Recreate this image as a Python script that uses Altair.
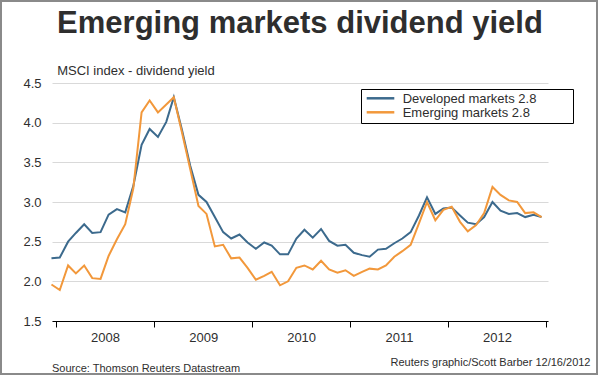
import altair as alt
import pandas as pd

# ---------------- data ----------------
months = pd.date_range("2007-12-01", periods=61, freq="MS") + pd.Timedelta(days=14)
dates = [d.strftime("%Y-%m-%d") for d in months]

series_names = ["Developed markets 2.8", "Emerging markets 2.8"]

developed = [2.29, 2.30, 2.50, 2.61, 2.72, 2.61, 2.62, 2.84, 2.91, 2.87,
             3.20, 3.72, 3.92, 3.82, 4.01, 4.32, 3.90, 3.46, 3.09, 3.00,
             2.81, 2.62, 2.54, 2.59, 2.49, 2.41, 2.49, 2.45, 2.34, 2.34,
             2.54, 2.65, 2.55, 2.66, 2.51, 2.45, 2.46, 2.36, 2.33, 2.31,
             2.40, 2.41, 2.48, 2.54, 2.62, 2.83, 3.06, 2.85, 2.92, 2.93,
             2.83, 2.74, 2.72, 2.81, 3.00, 2.89, 2.85, 2.86, 2.81, 2.84,
             2.81]

emerging = [1.96, 1.89, 2.20, 2.10, 2.20, 2.04, 2.03, 2.32, 2.53, 2.72,
            3.17, 4.13, 4.28, 4.13, 4.23, 4.32, 3.87, 3.42, 2.95, 2.85,
            2.44, 2.46, 2.29, 2.30, 2.17, 2.02, 2.07, 2.12, 1.95, 2.00,
            2.17, 2.20, 2.15, 2.26, 2.15, 2.11, 2.14, 2.07, 2.12, 2.16,
            2.15, 2.20, 2.31, 2.38, 2.46, 2.73, 3.00, 2.77, 2.90, 2.94,
            2.75, 2.63, 2.71, 2.86, 3.19, 3.09, 3.02, 3.00, 2.86, 2.87,
            2.81]

year_ticks = [2008, 2009, 2010, 2011, 2012, 2013]
y_ticks = [1.5, 2.0, 2.5, 3.0, 3.5, 4.0, 4.5]

title_text = "Emerging markets dividend yield"
subtitle_text = "MSCI index - dividend yield"
source_text = "Source: Thomson Reuters Datastream"
credit_text = "Reuters graphic/Scott Barber 12/16/2012"

# ---------------- styling ----------------
FONT = "Liberation Sans"
TEXT = "#2e2e2e"
COLORS = ["#3c6a8d", "#f2983b"]
W, H = 496, 238

df = pd.DataFrame({
    "date": dates * 2,
    "value": developed + emerging,
    "series": [series_names[0]] * len(dates) + [series_names[1]] * len(dates),
})

color_scale = alt.Scale(domain=series_names, range=COLORS)

x_enc = alt.X(
    "date:T",
    scale=alt.Scale(
        type="utc",
        domain=[alt.DateTime(year=2007, month=12, date=17, utc=True),
                alt.DateTime(year=2013, month=1, date=8, utc=True)],
    ),
    axis=alt.Axis(
        values=[alt.DateTime(year=y, month=1, date=1, utc=True) for y in year_ticks],
        labelExpr=f"utcyear(datum.value) < {year_ticks[-1]} ? utcFormat(datum.value, '%Y') : ''",
        labelOffset=49,
        labelFlush=False,
        labelOverlap=False,
        labelPadding=4,
        labelFontSize=13,
        labelFont=FONT,
        labelColor=TEXT,
        tickSize=6,
        tickColor="black",
        domainColor="black",
        domainWidth=1,
        grid=False,
        title=None,
    ),
)

y_enc = alt.Y(
    "value:Q",
    scale=alt.Scale(domain=[1.5, 4.5], nice=False, zero=False),
    axis=alt.Axis(
        values=y_ticks,
        format=".1f",
        domain=False,
        ticks=False,
        tickSize=0,
        labelPadding=11,
        labelFontSize=13,
        labelFont=FONT,
        labelColor=TEXT,
        gridColor="#d9d9d9",
        gridWidth=1,
        title=subtitle_text,
        titleAngle=0,
        titleAlign="left",
        titleBaseline="alphabetic",
        titleX=4.7,
        titleY=-8.5,
        titleFontSize=13,
        titleFont=FONT,
        titleFontWeight="normal",
        titleColor=TEXT,
    ),
)

lines = alt.Chart(df).mark_line(strokeWidth=2).encode(
    x=x_enc,
    y=y_enc,
    color=alt.Color("series:N", scale=color_scale, legend=None),
    detail="series:N",
)

one = alt.Data(values=[{"k": 1}])


def text_layer(text, x, y, size, align="left", weight="normal", baseline="alphabetic"):
    return alt.Chart(one).mark_text(
        align=align, baseline=baseline, fontSize=size, fontWeight=weight,
        font=FONT, color=TEXT,
    ).encode(x=alt.value(x), y=alt.value(y), text=alt.value(text))


# legend box and entries
legend_box = alt.Chart(one).mark_rect(fill="white", stroke="black", strokeWidth=1).encode(
    x=alt.value(309.5), x2=alt.value(521.5), y=alt.value(6.5), y2=alt.value(40.5)
)
legend_layers = [legend_box]
for i, (name, col) in enumerate(zip(series_names, COLORS)):
    yy = 15.3 + 14 * i
    legend_layers.append(
        alt.Chart(one).mark_rule(strokeWidth=2.5, color=col).encode(
            x=alt.value(314.7), x2=alt.value(342.3), y=alt.value(yy)
        )
    )
    legend_layers.append(
        alt.Chart(one).mark_text(align="left", baseline="middle", fontSize=13,
                                 font=FONT, color=TEXT).encode(
            x=alt.value(350.7), y=alt.value(yy + 0.5), text=alt.value(name)
        )
    )

frame = alt.Chart(one).mark_rect(fill="transparent", stroke="#8a8a8a", strokeWidth=2).encode(
    x=alt.value(-51), x2=alt.value(545), y=alt.value(-82), y2=alt.value(291)
)

title = text_layer(title_text, W / 2, -49.7, 31, align="center", weight="bold")
source = text_layer(source_text, 0, 289, 11)
credit = text_layer(credit_text, 538.5, 283, 11, align="right")

chart = alt.layer(
    lines, *legend_layers, title, source, credit, frame
).properties(
    width=W,
    height=H,
    autosize=alt.AutoSizeParams(type="none"),
    padding={"left": 52, "top": 83, "right": 52, "bottom": 55},
    background="white",
).configure_view(stroke=None)

chart.save("out.html", embed_options={"renderer": "svg", "actions": False})
